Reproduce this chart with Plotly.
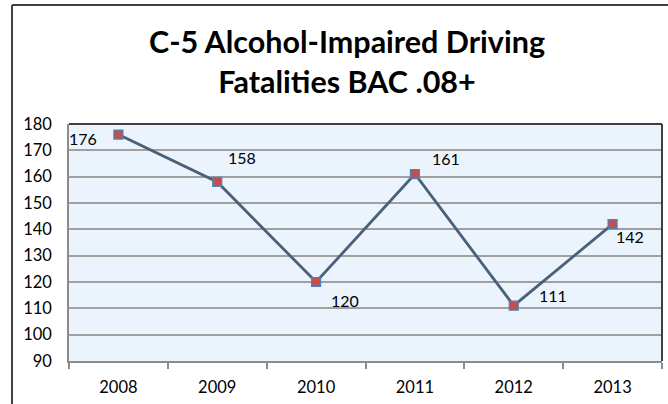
import plotly.graph_objects as go

years = ["2008", "2009", "2010", "2011", "2012", "2013"]
fatalities = [176, 158, 120, 161, 111, 142]
# label offsets (pixels) relative to each point
label_dx = [-35, 25, 29, 31, 39, 17]
label_dy = [-4, 24, -18, 16, 10, -12]

W, H = 668, 404
ml, mr, mt, mb = 69, 6, 124, 43
pw, ph = W - ml - mr, H - mt - mb

fig = go.Figure()
fig.add_trace(go.Scatter(
    x=years, y=fatalities, mode="lines+markers",
    line=dict(color="#4A6079", width=2.8),
    marker=dict(symbol="square", size=9, color="#C0504D",
                line=dict(color="#4F81BD", width=1.2)),
    hoverinfo="skip", showlegend=False,
))

for i, (v, dx, dy) in enumerate(zip(fatalities, label_dx, label_dy)):
    fig.add_annotation(x=i, y=v, xref="x", yref="y", text=str(v),
                       showarrow=False, xshift=dx, yshift=dy,
                       font=dict(family="Lato", size=16, color="#000000"))

def px_x(p):
    return (p - ml) / pw

def px_y(p):
    return (H - mb - p) / ph

# outer chart border (left and top)
fig.add_shape(type="line", xref="paper", yref="paper",
              x0=px_x(12), x1=px_x(12), y0=px_y(5), y1=px_y(410),
              line=dict(color="#404040", width=2))
fig.add_shape(type="line", xref="paper", yref="paper",
              x0=px_x(12), x1=px_x(680), y0=px_y(5), y1=px_y(5),
              line=dict(color="#404040", width=2))
# plot area top and right border
fig.add_shape(type="line", xref="paper", yref="paper",
              x0=0, x1=1, y0=1, y1=1, line=dict(color="#404040", width=2))
fig.add_shape(type="line", xref="paper", yref="paper",
              x0=1, x1=1, y0=0, y1=1, line=dict(color="#404040", width=2))

fig.update_layout(
    width=W, height=H,
    margin=dict(l=ml, r=mr, t=mt, b=mb),
    paper_bgcolor="#FFFFFF",
    plot_bgcolor="#EBF3FD",
    title=dict(text="C-5 Alcohol-Impaired Driving<br>Fatalities BAC .08+",
               x=347 / W, xanchor="center", y=1 - 53 / H, yanchor="middle",
               font=dict(family="Lato", size=30.5, color="#000000", weight="bold")),
    xaxis=dict(type="category", showgrid=False, showline=True,
               linecolor="#8C8C8C", linewidth=1.5,
               ticks="outside", tickson="boundaries", ticklen=6,
               tickcolor="#8C8C8C", tickwidth=1.5,
               tickfont=dict(family="Lato", size=16.5, color="#000000"),
               ticklabelstandoff=10, range=[-0.5, 5.5]),
    yaxis=dict(range=[90, 180], dtick=10, tick0=90,
               showgrid=True, gridcolor="#A0A0A0", gridwidth=1.5,
               showline=True, linecolor="#8C8C8C", linewidth=1.5,
               zeroline=False, ticks="",
               tickfont=dict(family="Lato", size=16.5, color="#000000"),
               ticklabelstandoff=12),
)

fig.write_html("out.html", config={"displayModeBar": False},
               post_script="document.body.style.margin='0px';")
